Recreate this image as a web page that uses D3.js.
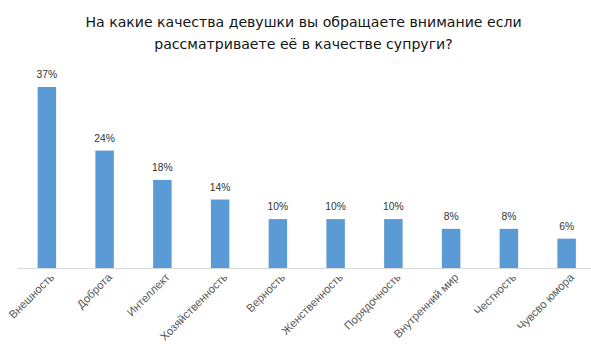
<!DOCTYPE html>
<html>
<head>
<meta charset="utf-8">
<script src="https://cdn.jsdelivr.net/npm/d3@7"></script>
<style>
  html, body { margin: 0; padding: 0; background: #fff; }
  svg { display: block; font-family: "Liberation Sans", Arial, sans-serif; }
</style>
</head>
<body>
<svg id="chart" width="591" height="347"></svg>
<script>
// Ответы: на какие качества девушки обращают внимание (доля, %)
const categories = [
  "Внешность", "Доброта", "Интеллект", "Хозяйственность", "Верность",
  "Женственность", "Порядочность", "Внутренний мир", "Честность", "Чувсво юмора"
];
const values = [37, 24, 18, 14, 10, 10, 10, 8, 8, 6];
const valueLabels = ["37%", "24%", "18%", "14%", "10%", "10%", "10%", "8%", "8%", "6%"];
const titleLines = [
  "На какие качества девушки вы обращаете внимание если",
  "рассматриваете её в качестве супруги?"
];

const svg = d3.select("#chart");
const baseY = 268;

const x = d3.scaleBand()
  .domain(categories)
  .range([18, 595.5])
  .paddingInner(0.68)
  .paddingOuter(0.34);

const y = d3.scaleLinear()
  .domain([0, 37])
  .range([baseY, 87]);

// Заголовок
svg.append("g")
  .selectAll("text")
  .data(titleLines)
  .join("text")
  .attr("x", 303.5)
  .attr("y", (d, i) => 26.7 + i * 21.8)
  .attr("text-anchor", "middle")
  .attr("font-family", "\"DejaVu Sans\", sans-serif")
  .attr("font-size", 14.1)
  .attr("fill", "#141414")
  .text(d => d);

// Столбцы
const data = categories.map((c, i) => ({ c, v: values[i], label: valueLabels[i] }));

svg.append("g")
  .selectAll("rect")
  .data(data)
  .join("rect")
  .attr("x", d => x(d.c))
  .attr("y", d => y(d.v))
  .attr("width", x.bandwidth())
  .attr("height", d => baseY - y(d.v))
  .attr("fill", "#5b9bd5");

// Подписи значений
svg.append("g")
  .selectAll("text")
  .data(data)
  .join("text")
  .attr("x", d => x(d.c) + x.bandwidth() / 2)
  .attr("y", d => y(d.v) - 9)
  .attr("text-anchor", "middle")
  .attr("font-size", 10.3)
  .attr("fill", "#333")
  .text(d => d.label);

// Ось категорий
const axis = svg.append("g")
  .attr("transform", `translate(0,${baseY})`)
  .call(d3.axisBottom(x).tickSize(0).tickPadding(0));

axis.select(".domain")
  .attr("stroke", "#d9d9d9")
  .attr("d", `M18,0.5H591`);

axis.selectAll(".tick text")
  .attr("font-family", "\"Liberation Sans\", Arial, sans-serif")
  .attr("font-size", 11.3)
  .attr("fill", "#595959")
  .attr("text-anchor", "end")
  .attr("dy", null)
  .attr("y", 0)
  .attr("transform", "translate(8,10) rotate(-45)");
</script>
</body>
</html>
